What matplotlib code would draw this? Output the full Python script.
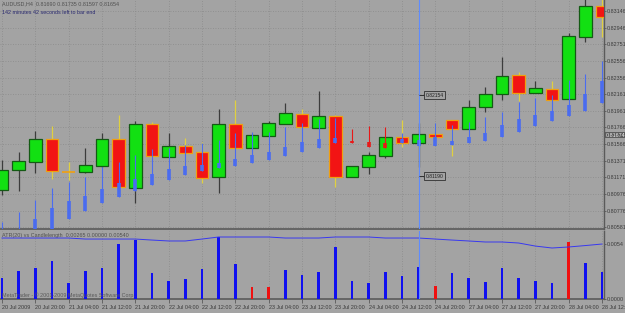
import matplotlib
matplotlib.use("Agg")
import matplotlib.pyplot as plt
from matplotlib.patches import Rectangle

plt.rcParams['font.family'] = ['Liberation Sans', 'DejaVu Sans']

# ---------------- data ----------------
symbol_title = "AUDUSD,H4  0.81690 0.81735 0.81597 0.81654"
timer_text = "142 minutes 42 seconds left to bar end"
ind_title = "ATR(20) vs Candlelength  0.00265 0.00000 0.00540"
copyright_text = "MetaTrader - \u00a9 2001-2009 MetaQuotes Software Corp."

opens = [0.81021, 0.81258, 0.81353, 0.81626, 0.81235, 0.81235, 0.81306, 0.81626, 0.81045, 0.81805,
         0.81413, 0.81543, 0.81472, 0.81175, 0.81805, 0.81520, 0.81662, 0.81805, 0.81923, 0.81757,
         0.81899, 0.81175, 0.81294, 0.81425, 0.81650, 0.81579, 0.81686, 0.81852, 0.81745, 0.82006,
         0.82161, 0.82386, 0.82173, 0.82220, 0.82101, 0.82838, 0.83206]
highs = [0.81377, 0.81472, 0.81721, 0.81781, 0.81353, 0.81520, 0.81698, 0.81911, 0.81840, 0.81828,
         0.81698, 0.81638, 0.81591, 0.81983, 0.82090, 0.81686, 0.81840, 0.82054, 0.81983, 0.82196,
         0.81911, 0.81306, 0.81472, 0.81650, 0.81852, 0.81816, 0.81805, 0.81852, 0.82090, 0.82244,
         0.82600, 0.82422, 0.82315, 0.82315, 0.82885, 0.83301, 0.83301]
lows = [0.80961, 0.81009, 0.81223, 0.81151, 0.81140, 0.81223, 0.81294, 0.81056, 0.80866, 0.81401,
        0.81413, 0.81460, 0.81104, 0.80985, 0.81520, 0.81520, 0.81662, 0.81805, 0.81769, 0.81757,
        0.81056, 0.81175, 0.81211, 0.81401, 0.81531, 0.81294, 0.81543, 0.81425, 0.81745, 0.81947,
        0.82090, 0.82078, 0.82173, 0.82090, 0.82101, 0.82778, 0.82838]
closes = [0.81258, 0.81365, 0.81626, 0.81246, 0.81235, 0.81318, 0.81626, 0.81056, 0.81805, 0.81425,
          0.81543, 0.81460, 0.81163, 0.81805, 0.81520, 0.81674, 0.81816, 0.81935, 0.81769, 0.81899,
          0.81175, 0.81306, 0.81436, 0.81650, 0.81579, 0.81686, 0.81650, 0.81745, 0.82006, 0.82161,
          0.82375, 0.82173, 0.82232, 0.82090, 0.82850, 0.83206, 0.83075]

band_top = [0.80641, 0.80760, 0.80902, 0.81045, 0.81116, 0.81175, 0.81294, 0.81353, 0.81436, 0.81508,
            0.81520, 0.81555, 0.81579, 0.81615, 0.81698, 0.81710, 0.81710, 0.81769, 0.81816, 0.81864,
            0.81876, 0.81745, 0.81781, 0.81769, 0.81698, 0.81733, 0.81816, 0.81793, 0.81828, 0.81888,
            0.81947, 0.82066, 0.82113, 0.82149, 0.82327, 0.82398, 0.82553]
band_mid = [0.80558, 0.80546, 0.80676, 0.80807, 0.80890, 0.80950, 0.81033, 0.81104, 0.81151, 0.81211,
            0.81270, 0.81306, 0.81318, 0.81341, 0.81389, 0.81436, 0.81472, 0.81531, 0.81591, 0.81626,
            0.81638, 0.81603, 0.81591, 0.81579, 0.81626, 0.81615, 0.81650, 0.81603, 0.81650, 0.81698,
            0.81793, 0.81864, 0.81911, 0.81959, 0.82030, 0.82161, 0.82315]
band_bot = [0.80427, 0.80427, 0.80546, 0.80546, 0.80676, 0.80771, 0.80866, 0.80938, 0.81009, 0.81080,
            0.81140, 0.81199, 0.81246, 0.81282, 0.81306, 0.81341, 0.81377, 0.81425, 0.81472, 0.81520,
            0.81579, 0.81579, 0.81531, 0.81520, 0.81579, 0.81543, 0.81543, 0.81555, 0.81579, 0.81603,
            0.81650, 0.81710, 0.81781, 0.81840, 0.81899, 0.81959, 0.82054]
band_red_bars = [21, 22, 23]

candle_len = [0.00206, 0.00275, 0.00304, 0.00373, 0.00157, 0.00275, 0.00304, 0.00540, 0.00579, 0.00255,
              0.00177, 0.00196, 0.00295, 0.00609, 0.00344, 0.00118, 0.00118, 0.00285, 0.00236, 0.00265,
              0.00511, 0.00177, 0.00157, 0.00265, 0.00226, 0.00314, 0.00128, 0.00255, 0.00206, 0.00167,
              0.00304, 0.00206, 0.00177, 0.00157, 0.00560, 0.00354, 0.00265]
candle_len_red = [15, 16, 26, 34]
atr = [0.00599, 0.00599, 0.00599, 0.00599, 0.00599, 0.00589, 0.00589, 0.00589, 0.00589, 0.00579,
       0.00570, 0.00570, 0.00589, 0.00609, 0.00609, 0.00609, 0.00609, 0.00599, 0.00599, 0.00599,
       0.00609, 0.00609, 0.00609, 0.00599, 0.00599, 0.00599, 0.00589, 0.00579, 0.00570, 0.00560,
       0.00560, 0.00550, 0.00520, 0.00501, 0.00511, 0.00525, 0.00540]

time_labels = ["20 Jul 2009", "20 Jul 20:00", "21 Jul 04:00", "21 Jul 12:00", "21 Jul 20:00",
               "22 Jul 04:00", "22 Jul 12:00", "22 Jul 20:00", "23 Jul 04:00", "23 Jul 12:00",
               "23 Jul 20:00", "24 Jul 04:00", "24 Jul 12:00", "24 Jul 20:00", "27 Jul 04:00",
               "27 Jul 12:00", "27 Jul 20:00", "28 Jul 04:00", "28 Jul 12:00"]
price_ticks = [0.83146, 0.82946, 0.82751, 0.82556, 0.82356, 0.82161, 0.81961, 0.81766, 0.81566,
               0.81371, 0.81171, 0.80976, 0.80776, 0.80581]
current_price = 0.81674
vline_index = 25
vline_prices = [0.82149, 0.81187]
vline_labels = ["0.82154", "0.81190"]
ind_ticks = [0.0054, 0.0]
ind_tick_labels = ["0.0054", "0.0000"]

# ---------------- style ----------------
BG = "#a3a3a3"
GRID = "#8a8a8a"
TXT = "#3a3a3a"
AXC = "#5a5a5a"
BULL = "#12e012"
BULL_EDGE = "#145a14"
BEAR = "#f21414"
BEAR_EDGE = "#f0a010"
BULL_WICK = "#3c3c3c"
BEAR_WICK = "#e0d040"
BAND = "#4a6cf0"
FS = 3.9

W, H = 625, 313
fig = plt.figure(figsize=(W / 100, H / 100), dpi=100, facecolor=BG)
ax = fig.add_axes([0, 1 - 229 / H, 604 / W, 229 / H], facecolor=BG)
ax2 = fig.add_axes([0, 14 / H, 604 / W, 68 / H], facecolor=BG)

n = len(opens)
xs = list(range(n))
xlim = (-0.12, 36.12)
for a in (ax, ax2):
    a.set_xlim(*xlim)
    for s in ("top", "left"):
        a.spines[s].set_visible(False)
    a.spines["right"].set_color(AXC)
    a.spines["bottom"].set_color(AXC)
    a.spines["right"].set_linewidth(1.0)
    a.spines["bottom"].set_linewidth(1.2)
    a.yaxis.tick_right()
    a.tick_params(axis="y", colors=AXC, labelcolor=TXT, labelsize=FS, length=1.5, width=0.6, pad=0.5)
    a.set_xticks(xs[::2])
    a.grid(True, axis="x", color=GRID, linestyle=(0, (1, 2)), linewidth=0.6)

ax.set_ylim(0.80558, 0.83277)
ax.set_yticks(price_ticks)
ax.set_yticklabels([f"{p:.5f}" for p in price_ticks])
ax.grid(True, axis="y", color=GRID, linestyle=(0, (1, 2)), linewidth=0.6)
ax.tick_params(axis="x", length=0, labelbottom=False)

# candles
bw = 0.75
for i in xs:
    o, h, l, c = opens[i], highs[i], lows[i], closes[i]
    bull = c > o
    ax.vlines(i, l, h, color=BULL_WICK if bull else BEAR_WICK, linewidth=0.9, zorder=2)
    lo, hi = min(o, c), max(o, c)
    if hi - lo < 1e-6:
        ax.hlines(o, i - bw / 2, i + bw / 2, color=BEAR_EDGE, linewidth=1.2, zorder=3)
    else:
        ax.add_patch(Rectangle((i - bw / 2, lo), bw, hi - lo,
                               facecolor=BULL if bull else BEAR,
                               edgecolor=BULL_EDGE if bull else BEAR_EDGE,
                               linewidth=0.9, zorder=3))

# band indicator
for i in xs:
    col = "#e81818" if i in band_red_bars else BAND
    ax.vlines(i, band_bot[i], band_top[i], color=col, linewidth=0.8, zorder=4)
    ax.vlines(i, band_bot[i], band_mid[i], color=col, linewidth=2.6, zorder=4)

# vertical line and its labels
for a in (ax, ax2):
    a.axvline(vline_index, color="#5e8cff", linewidth=0.8, zorder=5)
for p, lab in zip(vline_prices, vline_labels):
    ax.hlines(p, vline_index, vline_index + 0.36, color="#303030", linewidth=0.7, zorder=6)
    ax.text(vline_index + 0.42, p, lab, fontsize=3.6, color="#202020", va="center", ha="left", zorder=6,
            bbox=dict(boxstyle="square,pad=0.25", facecolor=BG, edgecolor="#303030", linewidth=0.6))

# current price label
ax.text(1.003, current_price, f"{current_price:.5f}", transform=ax.get_yaxis_transform(),
        fontsize=FS, color="#f0f0f0", va="center", ha="left", clip_on=False,
        bbox=dict(boxstyle="square,pad=0.1", facecolor="#5c5c5c", edgecolor="none"))

ax.text(0.004, 0.993, symbol_title, transform=ax.transAxes, fontsize=FS, color="#505050",
        va="top", ha="left")
ax.text(0.004, 0.958, timer_text, transform=ax.transAxes, fontsize=FS, color="#2a2a70",
        va="top", ha="left")

# lower pane
ax2.set_ylim(0, 0.00668)
ax2.set_yticks(ind_ticks)
ax2.set_yticklabels(ind_tick_labels)
bar_cols = ["#f01010" if i in candle_len_red else "#1010f0" for i in xs]
ax2.bar(xs, candle_len, width=0.16, color=bar_cols, zorder=3)
ax2.plot(xs, atr, color="#3838f0", linewidth=0.7, zorder=4)
ax2.text(0.004, 0.97, ind_title, transform=ax2.transAxes, fontsize=FS, color="#505050",
         va="top", ha="left")
ax2.text(0.004, 0.01, copyright_text, transform=ax2.transAxes, fontsize=FS, color="#5a5a5a",
         va="bottom", ha="left", zorder=5)

ax2.set_xticklabels(time_labels)
ax2.tick_params(axis="x", colors=AXC, labelcolor=TXT, labelsize=FS, length=3, width=0.6, pad=1.5)
for t in ax2.get_xticklabels():
    t.set_ha("left")

fig.savefig("out.png", dpi=100, facecolor=BG)
